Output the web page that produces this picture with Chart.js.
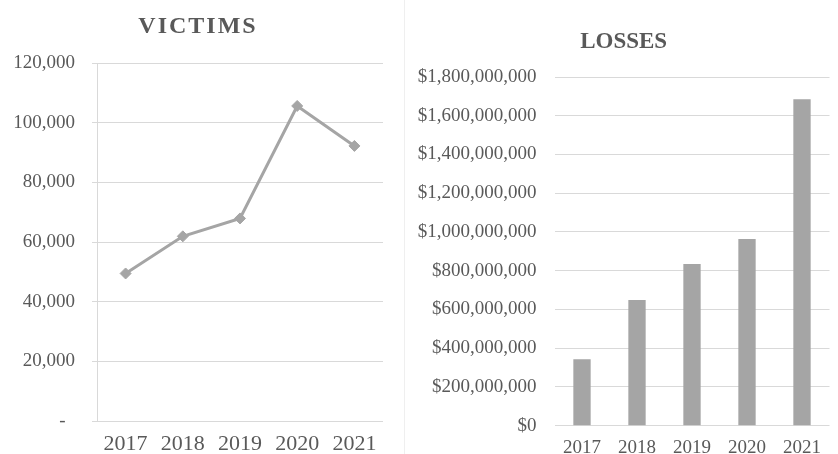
<!DOCTYPE html>
<html lang="en">
<head>
    <meta charset="UTF-8">
    <title>Victims and Losses</title>
    <script src="https://cdn.jsdelivr.net/npm/chart.js@4.4.1/dist/chart.umd.min.js"></script>
    <style>
        html, body { margin: 0; padding: 0; background: #fff; overflow: hidden; width: 838px; height: 454px; }
        .panel { position: absolute; top: 0; height: 460px; }
        #leftPanel { left: 0; width: 405px; border-right: 1px solid #efefef; box-sizing: border-box; }
        #rightPanel { left: 405px; width: 433px; }
        canvas { display: block; }
    </style>
</head>
<body>
    <div class="panel" id="leftPanel"><canvas id="victimsChart" width="405" height="460"></canvas></div>
    <div class="panel" id="rightPanel"><canvas id="lossesChart" width="433" height="460"></canvas></div>
    <script>
        // data
        const years = ['2017', '2018', '2019', '2020', '2021'];
        const victims = [49450, 61900, 67900, 105600, 92200];
        const losses = [343000000, 649000000, 835000000, 964000000, 1685000000];
        const victimsTicks = [0, 20000, 40000, 60000, 80000, 100000, 120000];
        const lossesTicks = [0, 200000000, 400000000, 600000000, 800000000, 1000000000, 1200000000, 1400000000, 1600000000, 1800000000];

        const grey = '#a5a5a5';
        const textCol = '#595959';
        const gridCol = '#d9d9d9';
        const serif = 'Liberation Serif';

        // scales that draw their labels without the title's letter spacing
        function plainLabels(Base, id) {
            const C = class extends Base {
                drawLabels(area) {
                    const ctx = this.ctx;
                    ctx.save();
                    ctx.letterSpacing = '0px';
                    super.drawLabels(area);
                    ctx.restore();
                }
            };
            C.id = id;
            return C;
        }
        Chart.register(plainLabels(Chart.CategoryScale, 'plainCategory'), plainLabels(Chart.LinearScale, 'plainLinear'));

        const spacedTitle = {
            id: 'spacedTitle',
            beforeDraw(chart) { chart.ctx.letterSpacing = '2px'; },
            afterDraw(chart) { chart.ctx.letterSpacing = '0px'; }
        };

        // VICTIMS line chart
        new Chart(document.getElementById('victimsChart'), {
            type: 'line',
            data: {
                labels: years,
                datasets: [{
                    data: victims,
                    borderColor: grey, backgroundColor: grey, borderWidth: 3,
                    pointStyle: 'rectRot', pointRadius: 5.5, pointBorderWidth: 1,
                    pointBackgroundColor: grey, pointBorderColor: grey, tension: 0
                }]
            },
            options: {
                responsive: false, animation: false,
                layout: { padding: { left: 13, right: 22, top: 0, bottom: 2.6 } },
                plugins: {
                    legend: { display: false }, tooltip: { enabled: false },
                    title: {
                        display: true, text: 'VICTIMS', color: textCol,
                        font: { family: serif, size: 24, weight: 'bold', lineHeight: 1.2 },
                        padding: { top: 12.4, bottom: 21.8 }
                    }
                },
                scales: {
                    x: {
                        type: 'plainCategory', offset: true,
                        afterFit: s => { s.height = 36.4; },
                        grid: { display: false, drawTicks: false }, border: { display: false },
                        ticks: { color: textCol, padding: 10, autoSkip: false, maxRotation: 0, font: { family: serif, size: 22, lineHeight: 1.2 } }
                    },
                    y: {
                        type: 'plainLinear', min: 0, max: 120000,
                        afterFit: s => { s.width = 84; },
                        afterBuildTicks: s => { s.ticks = victimsTicks.map(v => ({ value: v })); },
                        grid: { color: gridCol, lineWidth: 1, tickLength: 5, drawTicks: true },
                        border: { display: true, color: gridCol, width: 1 },
                        ticks: {
                            color: textCol, padding: 17, font: { family: serif, size: 19 },
                            callback: v => v === 0 ? '-  ' : v.toLocaleString('en-US')
                        }
                    }
                }
            },
            plugins: [spacedTitle]
        });

        // LOSSES bar chart
        new Chart(document.getElementById('lossesChart'), {
            type: 'bar',
            data: {
                labels: years,
                datasets: [{ data: losses, backgroundColor: grey, barPercentage: 0.315, categoryPercentage: 1 }]
            },
            options: {
                responsive: false, animation: false,
                layout: { padding: { left: 12.75, right: 8.5, top: 0, bottom: 0.5 } },
                plugins: {
                    legend: { display: false }, tooltip: { enabled: false },
                    title: {
                        display: true, text: 'LOSSES', color: textCol,
                        font: { family: serif, size: 23, weight: 'bold', lineHeight: 1.2 },
                        padding: { top: 27.9, bottom: 21.5 }
                    }
                },
                scales: {
                    x: {
                        afterFit: s => { s.height = 33.8; },
                        grid: { display: false, drawTicks: false }, border: { display: false },
                        ticks: { color: textCol, padding: 11, autoSkip: false, maxRotation: 0, font: { family: serif, size: 19, lineHeight: 1.2 } }
                    },
                    y: {
                        min: 0, max: 1800000000,
                        afterFit: s => { s.width = 136.75; },
                        afterBuildTicks: s => { s.ticks = lossesTicks.map(v => ({ value: v })); },
                        grid: { color: gridCol, lineWidth: 1, drawTicks: false },
                        border: { display: false },
                        ticks: {
                            color: textCol, padding: 18, font: { family: serif, size: 19 },
                            callback: v => '$' + v.toLocaleString('en-US')
                        }
                    }
                }
            }
        });
    </script>
</body>
</html>
